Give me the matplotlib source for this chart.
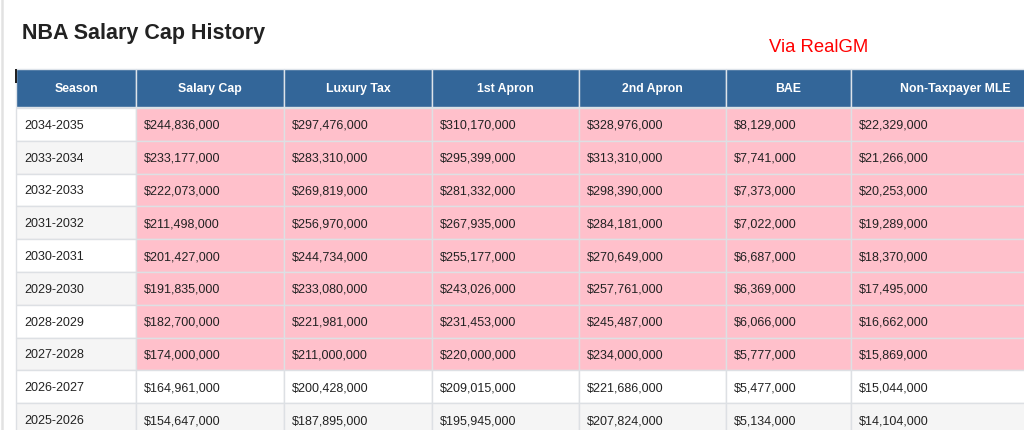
import matplotlib.pyplot as plt
from matplotlib.patches import Rectangle

plt.rcParams['font.family'] = ['Liberation Sans', 'DejaVu Sans']

# Table data
columns = ['Season', 'Salary Cap', 'Luxury Tax', '1st Apron', '2nd Apron', 'BAE', 'Non-Taxpayer MLE']
seasons = ['2034-2035', '2033-2034', '2032-2033', '2031-2032', '2030-2031',
           '2029-2030', '2028-2029', '2027-2028', '2026-2027', '2025-2026']
salary_cap = [244836000, 233177000, 222073000, 211498000, 201427000,
              191835000, 182700000, 174000000, 164961000, 154647000]
luxury_tax = [297476000, 283310000, 269819000, 256970000, 244734000,
              233080000, 221981000, 211000000, 200428000, 187895000]
first_apron = [310170000, 295399000, 281332000, 267935000, 255177000,
               243026000, 231453000, 220000000, 209015000, 195945000]
second_apron = [328976000, 313310000, 298390000, 284181000, 270649000,
                257761000, 245487000, 234000000, 221686000, 207824000]
bae = [8129000, 7741000, 7373000, 7022000, 6687000,
       6369000, 6066000, 5777000, 5477000, 5134000]
mle = [22329000, 21266000, 20253000, 19289000, 18370000,
       17495000, 16662000, 15869000, 15044000, 14104000]
projected = [True] * 8 + [False] * 2

# layout in pixels
col_edges = [16, 136, 284, 432, 579, 726, 851, 1060]
header_top, header_bot = 69, 107
row_h = 32.8

fig = plt.figure(figsize=(10.24, 4.3), dpi=100)
ax = fig.add_axes([0, 0, 1, 1])
ax.set_xlim(0, 1024)
ax.set_ylim(430, 0)
ax.axis('off')

# left page border
ax.plot([2, 2], [0, 430], color='#e2e2e2', lw=1.8)

ax.text(22, 33, 'NBA Salary Cap History', fontsize=15.5, fontweight='bold',
        color='#222222', va='center', ha='left')
ax.text(769, 47, 'Via RealGM', fontsize=13.3, color='#ff0000', va='center', ha='left')

# header
for i, name in enumerate(columns):
    x0, x1 = col_edges[i], col_edges[i + 1]
    ax.add_patch(Rectangle((x0, header_top), x1 - x0, header_bot - header_top,
                           facecolor='#336699', edgecolor='#dde3ea', lw=1))
    ax.text((x0 + x1) / 2, (header_top + header_bot) / 2 + 1, name, color='white',
            fontsize=8.8, fontweight='bold', ha='center', va='center')
ax.add_patch(Rectangle((15, header_top), 2, 14, facecolor='#222222', edgecolor='none'))

# body rows
for r, season in enumerate(seasons):
    y0 = header_bot + 1 + r * row_h
    base = '#ffffff' if r % 2 == 0 else '#f5f5f5'
    values = [salary_cap[r], luxury_tax[r], first_apron[r], second_apron[r], bae[r], mle[r]]
    cells = [season] + ['${:,}'.format(v) for v in values]
    for c, txt in enumerate(cells):
        x0, x1 = col_edges[c], col_edges[c + 1]
        fc = '#ffc0cb' if (c > 0 and projected[r]) else base
        ax.add_patch(Rectangle((x0, y0), x1 - x0, row_h, facecolor=fc,
                               edgecolor='#dde0e4', lw=1))
        ax.text(x0 + 8, y0 + row_h / 2 + 1.5, txt, fontsize=9, color='#222222',
                ha='left', va='center')

fig.savefig('out.png', dpi=100)
